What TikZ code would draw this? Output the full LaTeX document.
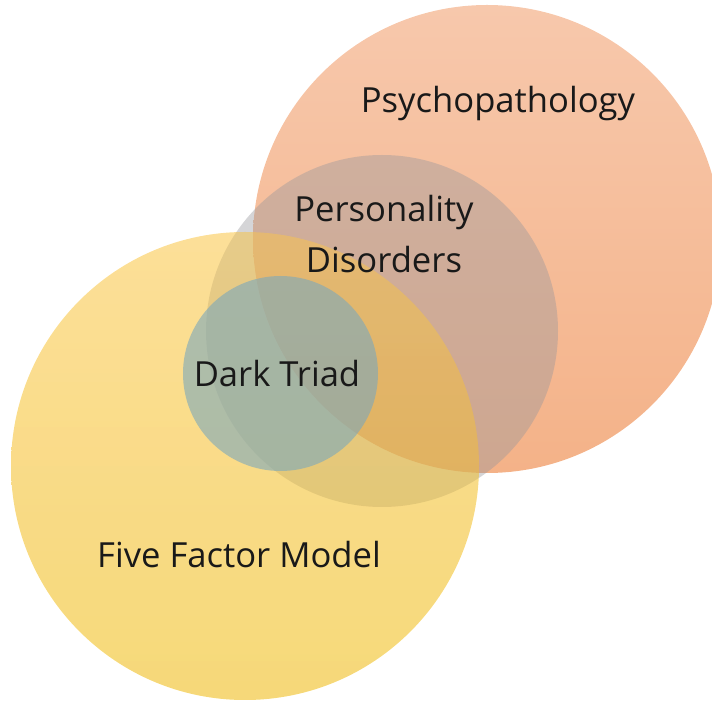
\documentclass[tikz,border=0pt]{standalone}
\usepackage{fontspec}
\setmainfont{Open Sans}
\usepackage{xcolor}
\definecolor{psytop}{RGB}{247,200,172}
\definecolor{psybot}{RGB}{244,178,136}
\definecolor{fftop}{RGB}{253,228,160}
\definecolor{ffbot}{RGB}{248,222,124}
\definecolor{pdgrey}{RGB}{150,150,156}
\definecolor{dtteal}{RGB}{124,168,188}
\usetikzlibrary{positioning}

\begin{document}
\begin{tikzpicture}[x=0.025cm, y=-0.025cm] % one unit = one pixel of the reference
        \tikzset{
                label/.style={font=\fontsize{24.6}{28}\selectfont, text=black!90, anchor=base},
        }
        \useasboundingbox (0,0) rectangle (712,701);
        \clip (0,0) rectangle (712,701);
        % Draw the four sets as translucent discs
        \shade[top color=psytop, bottom color=psybot] (487,239) circle (234);
        \fill[pdgrey, fill opacity=0.4] (382,331) circle (176);
        % yellow disc in two layers: a wash, then a multiply
        \shade[top color=fftop, bottom color=ffbot, fill opacity=0.5] (245,466) circle (234);
        \begin{scope}[blend mode=multiply]
                \shade[top color=fftop, bottom color=ffbot, fill opacity=0.7] (245,466) circle (234);
        \end{scope}
        \fill[dtteal, fill opacity=0.6] (280.5,373.5) circle (97.5);

        % Labels of the sets
        \node[label] (psy) at (498,113) {Psychopathology};
        \node[label] (pers) at (384,222) {Personality};
        \node[label] (dis) at (384,273) {Disorders};
        \node[label] (dark) at (277,387) {Dark Triad};
        \node[label] (ffm) at (239,568) {Five Factor Model};
\end{tikzpicture}
\end{document}
